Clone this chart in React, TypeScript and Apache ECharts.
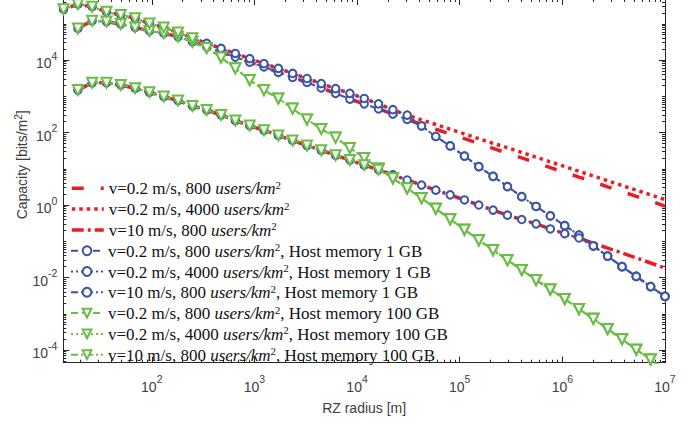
import React, { useEffect, useRef } from 'react';
import * as echarts from 'echarts';

// log10 of RZ radius [m] for every sample
const radiusExp = [1.140, 1.280, 1.419, 1.559, 1.698, 1.838, 1.977, 2.117, 2.256, 2.396, 2.535, 2.675, 2.814, 2.954, 3.093, 3.233, 3.372, 3.512, 3.651, 3.791, 3.930, 4.070, 4.209, 4.349, 4.488, 4.628, 4.767, 4.907, 5.046, 5.186, 5.325, 5.465, 5.604, 5.744, 5.883, 6.023, 6.162, 6.302, 6.441, 6.581, 6.720, 6.860, 7.000];

// log10 of capacity [bits/m^2]
const capV02D800 = [null, 4.87, 5.08, 5.06, 4.99, 4.90, 4.80, 4.74, 4.64, 4.50, 4.36, 4.22, 4.08, 3.94, 3.81, 3.66, 3.52, 3.38, 3.23, 3.08, 2.92, 2.79, 2.65, 2.51, 2.36, 2.23, 2.09, 1.96, 1.83, 1.70, 1.56, 1.43, 1.30, 1.17, 1.03, 0.90, 0.77, 0.64, 0.50, 0.37, 0.24, 0.11, -0.03];
const capV02D4000 = [5.40, 5.54, 5.47, 5.33, 5.24, 5.15, 5.01, 4.90, 4.76, 4.60, 4.46, 4.32, 4.18, 4.04, 3.90, 3.77, 3.63, 3.49, 3.35, 3.21, 3.08, 2.94, 2.79, 2.63, 2.48, 2.35, 2.22, 2.09, 1.96, 1.83, 1.70, 1.58, 1.45, 1.32, 1.19, 1.06, 0.93, 0.80, 0.67, 0.54, 0.41, 0.28, 0.15];
const capV10D800 = [null, 3.17, 3.37, 3.37, 3.31, 3.22, 3.11, 2.99, 2.88, 2.73, 2.62, 2.48, 2.33, 2.19, 2.06, 1.92, 1.78, 1.64, 1.51, 1.37, 1.24, 1.10, 0.97, 0.83, 0.69, 0.55, 0.41, 0.28, 0.14, 0.00, -0.14, -0.28, -0.40, -0.52, -0.66, -0.79, -0.91, -1.05, -1.19, -1.32, -1.46, -1.60, -1.74];

const cap1GBV02D800 = [null, 4.87, 5.08, 5.06, 4.99, 4.90, 4.80, 4.74, 4.64, 4.50, 4.36, 4.22, 4.08, 3.94, 3.81, 3.66, 3.52, 3.38, 3.23, 3.08, 2.92, 2.79, 2.65, 2.51, 2.36, 2.18, 1.89, 1.63, 1.35, 1.06, 0.79, 0.51, 0.23, -0.04, -0.30, -0.57, -0.83, -1.13, -1.41, -1.70, -1.97, -2.25, -2.52];
const cap1GBV02D4000 = [5.40, 5.54, 5.47, 5.33, 5.24, 5.15, 5.01, 4.90, 4.76, 4.60, 4.46, 4.32, 4.18, 4.04, 3.90, 3.77, 3.63, 3.49, 3.35, 3.21, 3.08, 2.94, 2.79, 2.63, 2.48, 2.18, 1.89, 1.63, 1.35, 1.06, 0.79, 0.51, 0.23, -0.04, -0.30, -0.57, -0.83, -1.13, -1.41, -1.70, -1.97, -2.25, -2.52];
const cap1GBV10D800 = [null, 3.17, 3.37, 3.37, 3.31, 3.22, 3.11, 2.99, 2.88, 2.73, 2.62, 2.48, 2.33, 2.19, 2.06, 1.92, 1.78, 1.64, 1.51, 1.37, 1.24, 1.10, 0.97, 0.83, 0.69, 0.55, 0.41, 0.28, 0.14, 0.00, -0.14, -0.28, -0.40, -0.52, -0.66, -0.79, -0.91, -1.13, -1.41, -1.70, -1.97, -2.25, -2.52];

const cap100GBV02D800 = [null, 4.87, 5.08, 5.06, 4.99, 4.90, 4.80, 4.74, 4.64, 4.50, 4.33, 4.07, 3.77, 3.45, 3.17, 2.94, 2.66, 2.36, 2.10, 1.86, 1.57, 1.30, 1.01, 0.74, 0.46, 0.19, -0.10, -0.39, -0.68, -0.97, -1.24, -1.52, -1.79, -2.07, -2.33, -2.59, -2.87, -3.14, -3.42, -3.70, -3.99, -4.26, -4.55];
const cap100GBV02D4000 = [5.40, 5.54, 5.47, 5.33, 5.24, 5.15, 5.01, 4.90, 4.76, 4.60, 4.33, 4.07, 3.77, 3.45, 3.17, 2.94, 2.66, 2.36, 2.10, 1.86, 1.57, 1.30, 1.01, 0.74, 0.46, 0.19, -0.10, -0.39, -0.68, -0.97, -1.24, -1.52, -1.79, -2.07, -2.33, -2.59, -2.87, -3.14, -3.42, -3.70, -3.99, -4.26, -4.55];
const cap100GBV10D800 = [null, 3.17, 3.37, 3.37, 3.31, 3.22, 3.11, 2.99, 2.88, 2.73, 2.62, 2.48, 2.33, 2.19, 2.06, 1.92, 1.78, 1.64, 1.51, 1.37, 1.24, 1.10, 0.97, 0.74, 0.46, 0.19, -0.10, -0.39, -0.68, -0.97, -1.24, -1.52, -1.79, -2.07, -2.33, -2.59, -2.87, -3.14, -3.42, -3.70, -3.99, -4.26, -4.55];

const seriesNames = [
  'v=0.2 m/s, 800 users/km²',
  'v=0.2 m/s, 4000 users/km²',
  'v=10 m/s, 800 users/km²',
  'v=0.2 m/s, 800 users/km², Host memory 1 GB',
  'v=0.2 m/s, 4000 users/km², Host memory 1 GB',
  'v=10 m/s, 800 users/km², Host memory 1 GB',
  'v=0.2 m/s, 800 users/km², Host memory 100 GB',
  'v=0.2 m/s, 4000 users/km², Host memory 100 GB',
  'v=10 m/s, 800 users/km², Host memory 100 GB',
];

// tick exponents
const xMajorExp = [2, 3, 4, 5, 6, 7];
const yMajorExp = [-4, -2, 0, 2, 4];

const X_MIN = 1.138;
const X_MAX = 7;
const Y_MIN = -4.35;
const Y_MAX = 5.683;

const RED = '#ec1c24';
const BLUE = '#3b54a5';
const GREEN = '#6abd45';
const AXIS = '#262626';
const LABEL = '#404040';

function minorTicks(lo: number, hi: number, majors: number[]): number[] {
  const out: number[] = [];
  for (let n = -6; n <= 8; n++) {
    for (let k = 1; k <= 9; k++) {
      const v = Math.log10(k) + n;
      if (k === 1 && majors.indexOf(n) >= 0) continue;
      if (v >= lo && v <= hi) out.push(v);
    }
  }
  return out;
}

function pts(arr: (number | null)[]) {
  const out: number[][] = [];
  arr.forEach((v, i) => {
    if (v !== null) out.push([radiusExp[i], v]);
  });
  return out;
}

export default function App() {
  const ref = useRef<HTMLDivElement>(null);
  useEffect(() => {
    const chart = echarts.init(ref.current!, null, { renderer: 'svg' });

    const tickFont = 'Liberation Sans, Arial, sans-serif';
    const tickRich = {
      b: { fontSize: 14, lineHeight: 20, verticalAlign: 'bottom', color: LABEL, fontFamily: tickFont },
      sup: { fontSize: 10.5, lineHeight: 8, verticalAlign: 'top', color: LABEL, fontFamily: tickFont },
    };
    const labelFmt = (v: number) => '{b|10}{sup|' + String(Math.round(v)) + '}';

    const xMinor = minorTicks(X_MIN, X_MAX, xMajorExp);
    const yMinor = minorTicks(Y_MIN, Y_MAX, yMajorExp);

    const baseAxis = (min: number, max: number) => ({
      type: 'value',
      min,
      max,
      gridIndex: 0,
      splitLine: { show: false },
      nameMoveOverlap: false,
    });

    const mkAxis = (min: number, max: number, position: string, ticks: number[], len: number, labels: boolean, line: boolean, extra: any = {}) => ({
      ...baseAxis(min, max),
      position,
      axisLine: { show: line, onZero: false, lineStyle: { color: AXIS, width: 1 } },
      axisTick: { show: true, inside: true, length: len, customValues: ticks, lineStyle: { color: AXIS, width: 1 } },
      axisLabel: labels
        ? { show: true, customValues: position === 'bottom' ? xMajorExp : yMajorExp, formatter: labelFmt, rich: tickRich, margin: position === 'bottom' ? 11 : 6, color: LABEL, fontFamily: tickFont, fontSize: 14 }
        : { show: false },
      ...extra,
    });

    const xAxes = [
      mkAxis(X_MIN, X_MAX, 'bottom', xMajorExp, 6, true, true, {
        name: 'RZ radius [m]',
        nameLocation: 'middle',
        nameGap: 38,
        nameTextStyle: { fontSize: 14, color: LABEL, fontFamily: tickFont },
      }),
      mkAxis(X_MIN, X_MAX, 'bottom', xMinor, 3, false, false),
      mkAxis(X_MIN, X_MAX, 'top', xMajorExp, 6, false, true),
      mkAxis(X_MIN, X_MAX, 'top', xMinor, 3, false, false),
    ];
    const yAxes = [
      mkAxis(Y_MIN, Y_MAX, 'left', yMajorExp, 6, true, true, {
        name: 'Capacity [bits/m{sup|2}]',
        nameLocation: 'middle',
        nameGap: 32,
        nameRotate: 90,
        nameTextStyle: {
          fontSize: 14,
          color: LABEL,
          fontFamily: tickFont,
          lineHeight: 18,
          padding: [0, 0, 0, 32],
          rich: { sup: { fontSize: 10, lineHeight: 8, verticalAlign: 'top', color: LABEL, fontFamily: tickFont } },
        },
      }),
      mkAxis(Y_MIN, Y_MAX, 'left', yMinor, 3, false, false),
      mkAxis(Y_MIN, Y_MAX, 'right', yMajorExp, 6, false, true),
      mkAxis(Y_MIN, Y_MAX, 'right', yMinor, 3, false, false),
    ];

    const mk = (name: string, data: (number | null)[], color: string, width: number, dash: number[], symbol: string, size: number, rotate: number, z: number) => ({
      name,
      type: 'line',
      xAxisIndex: 0,
      yAxisIndex: 0,
      data: pts(data),
      symbol,
      symbolSize: size,
      symbolRotate: rotate,
      showSymbol: symbol !== 'none',
      clip: true,
      z,
      lineStyle: { color, width, type: dash, cap: 'butt' },
      itemStyle: { color, borderColor: color, borderWidth: 2.2 },
      emphasis: { disabled: true },
    });

    const dashR = [12, 17];
    const dotR = [3.5, 4];
    const dashDotR = [12, 4, 3, 4];
    const dashB = [7, 4];
    const dotB = [2, 3];
    const dashDotB = [7, 3, 2, 3];

    const series = [
      mk(seriesNames[0], capV02D800, RED, 3.5, dashR, 'none', 0, 0, 2),
      mk(seriesNames[1], capV02D4000, RED, 3.5, dotR, 'none', 0, 0, 2),
      mk(seriesNames[2], capV10D800, RED, 3.5, dashDotR, 'none', 0, 0, 2),
      mk(seriesNames[3], cap1GBV02D800, BLUE, 2, dashB, 'emptyCircle', 7.5, 0, 3),
      mk(seriesNames[4], cap1GBV02D4000, BLUE, 2, dotB, 'emptyCircle', 7.5, 0, 3),
      mk(seriesNames[5], cap1GBV10D800, BLUE, 2, dashDotB, 'emptyCircle', 7.5, 0, 3),
      mk(seriesNames[6], cap100GBV02D800, GREEN, 2, dashB, 'emptyTriangle', 10, 180, 4),
      mk(seriesNames[7], cap100GBV02D4000, GREEN, 2, dotB, 'emptyTriangle', 10, 180, 4),
      mk(seriesNames[8], cap100GBV10D800, GREEN, 2, dashDotB, 'emptyTriangle', 10, 180, 4),
    ];

    const serif = 'Liberation Serif, Times New Roman, serif';
    const legendRich = {
      r: { fontFamily: serif, fontSize: 17, lineHeight: 18, verticalAlign: 'bottom', color: '#111' },
      i: { fontFamily: serif, fontSize: 17, lineHeight: 18, verticalAlign: 'bottom', fontStyle: 'italic', color: '#111' },
      s: { fontFamily: serif, fontSize: 11, lineHeight: 8, verticalAlign: 'top', color: '#111' },
    };
    const legendFmt = (name: string) => {
      const parts = name.split('users/km²');
      let s = '{r|' + parts[0] + '}{i|users/km}{s|2}';
      if (parts[1]) s += '{r|' + parts[1] + '}';
      return s;
    };

    const legends = seriesNames.map((nm, i) => ({
      data: [nm],
      left: 70,
      top: 179.3 + i * 20.8,
      orient: 'vertical',
      padding: 0,
      itemWidth: 32,
      itemHeight: 11,
      selectedMode: false,
      formatter: legendFmt,
      itemStyle: i < 3 ? { opacity: 0 } : {},
      lineStyle: { width: i < 3 ? 3.5 : 2 },
      textStyle: { fontFamily: serif, fontSize: 17, color: '#111', rich: legendRich },
    }));

    chart.setOption({
      animation: false,
      backgroundColor: '#ffffff',
      grid: { left: 63.3, right: 30, top: -1, bottom: 60.3, containLabel: false, outerBoundsMode: 'none' },
      xAxis: xAxes,
      yAxis: yAxes,
      legend: legends,
      series,
    });
    return () => chart.dispose();
  }, []);
  return <div ref={ref} style={{ position: 'fixed', left: 0, top: 0, width: 695, height: 423 }} />;
}
